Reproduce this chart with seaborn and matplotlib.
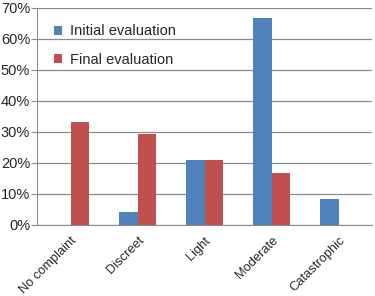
import numpy as np
import pandas as pd
import matplotlib
matplotlib.use('Agg')
import matplotlib.pyplot as plt
import seaborn as sns
from matplotlib.ticker import PercentFormatter

# Data (percent of patients)
categories = ['No complaint', 'Discreet', 'Light', 'Moderate', 'Catastrophic']
initial = [0.0, 4.2, 20.8, 66.7, 8.3]
final = [33.3, 29.2, 20.8, 16.7, 0.0]
series = ['Initial evaluation', 'Final evaluation']

df = pd.DataFrame({
    'category': categories * 2,
    'value': initial + final,
    'series': [series[0]] * len(categories) + [series[1]] * len(categories),
})

sns.set_style('white')
plt.rcParams['font.family'] = ['Liberation Sans', 'DejaVu Sans']

fig = plt.figure(figsize=(3.75, 2.96), dpi=100)
ax = fig.add_axes([0.099, 0.24, 0.893, 0.733])

sns.barplot(data=df, x='category', y='value', hue='series', order=categories,
            hue_order=series, palette=['#4F81BD', '#C0504D'], width=0.56,
            gap=0, linewidth=0, saturation=1, ax=ax, zorder=3)

ax.set_ylim(0, 70)
ax.set_yticks(np.arange(0, 71, 10))
ax.yaxis.set_major_formatter(PercentFormatter(decimals=0))
ax.set_xlim(-0.5, len(categories) - 0.5)
ax.grid(axis='y', color='#8c8c8c', linewidth=0.9, zorder=0)
ax.set_axisbelow(True)

for s in ['top', 'right']:
    ax.spines[s].set_visible(False)
ax.spines['left'].set_color('#8c8c8c')
ax.spines['bottom'].set_color('#8c8c8c')

# tick marks between categories
ax.set_xticks(np.arange(len(categories)))
ax.set_xticklabels(categories, rotation=45, ha='right', rotation_mode='anchor',
                   fontsize=9.3)
ax.set_xticks(np.arange(-0.5, len(categories)), minor=True)
ax.tick_params(axis='x', which='major', length=0, pad=7)
ax.tick_params(axis='x', which='minor', length=4, color='#8c8c8c', direction='out')
ax.tick_params(axis='y', length=4, color='#8c8c8c', direction='out', labelsize=10.5,
               pad=1, left=True)
ax.set_xlabel('')
ax.set_ylabel('')

ax.legend(loc='upper left', bbox_to_anchor=(0.01, 0.985), frameon=False,
          fontsize=10.5, handlelength=0.6, handleheight=0.6, labelspacing=1.0,
          handletextpad=0.5)

fig.savefig('out.png', dpi=100)
